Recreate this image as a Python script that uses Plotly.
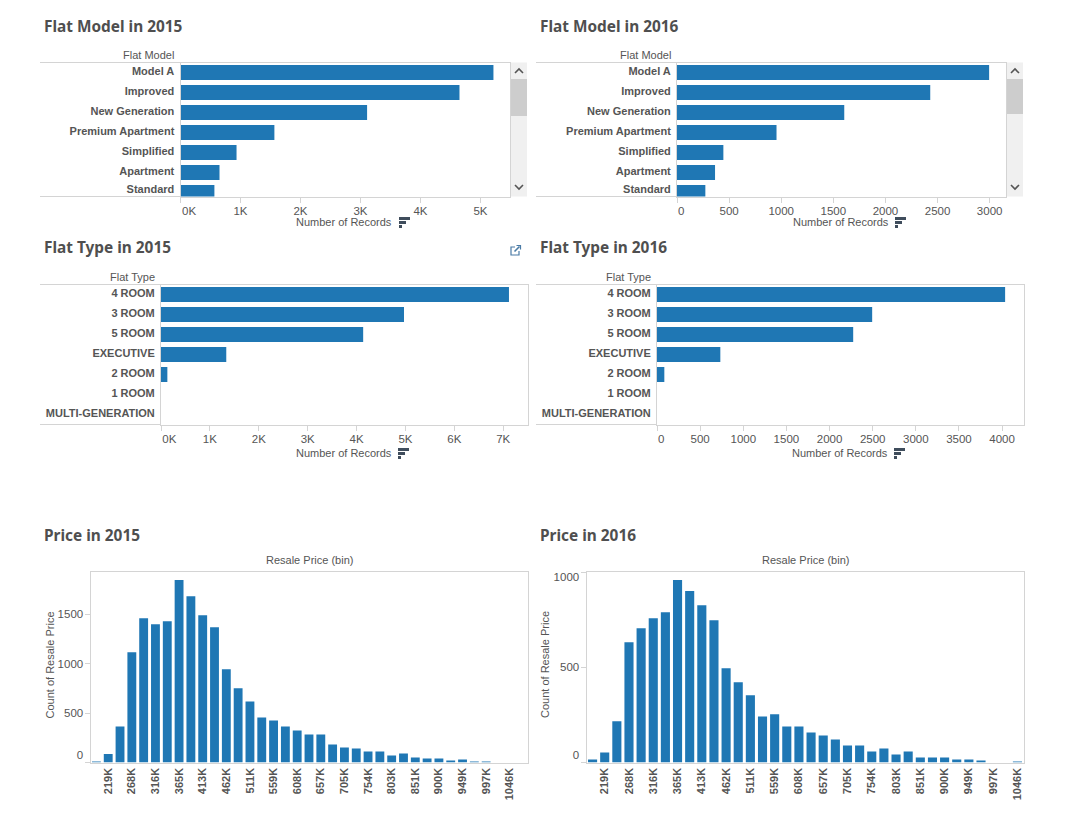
import plotly.graph_objects as go

W, H = 1068, 820
BAR = "#1f77b4"
TXT = "#555555"
LINE = "#d4d4d4"
FONT = "Liberation Sans"

model_cats = ["Model A", "Improved", "New Generation", "Premium Apartment", "Simplified", "Apartment", "Standard"]
model_2015 = [5216, 4650, 3110, 1565, 934, 650, 565]
model_2016 = [2995, 2430, 1605, 955, 445, 365, 272]

type_cats = ["4 ROOM", "3 ROOM", "5 ROOM", "EXECUTIVE", "2 ROOM", "1 ROOM", "MULTI-GENERATION"]
type_2015 = [7117, 4970, 4135, 1335, 130, 0, 0]
type_2016 = [4035, 2494, 2274, 734, 85, 0, 0]

price_2015 = [10, 85, 365, 1115, 1459, 1399, 1429, 1845, 1682, 1490, 1368, 943, 750, 618, 456, 426,
              365, 324, 284, 284, 182, 152, 142, 111, 111, 71, 91, 51, 41, 41, 20, 30, 10, 10, 0, 0, 0]
price_2016 = [16, 53, 216, 632, 705, 758, 789, 958, 900, 826, 747, 495, 421, 353, 242, 253, 189, 189,
              158, 142, 121, 89, 89, 58, 74, 42, 58, 26, 26, 26, 16, 16, 11, 0, 0, 5]
price_labels = ["219K", "268K", "316K", "365K", "413K", "462K", "511K", "559K", "608K", "657K",
                "705K", "754K", "803K", "851K", "900K", "949K", "997K", "1046K"]

k_labels_5 = ["0K", "1K", "2K", "3K", "4K", "5K"]
k_ticks_5 = [0, 1000, 2000, 3000, 4000, 5000]
n_labels_3000 = ["0", "500", "1000", "1500", "2000", "2500", "3000"]
n_ticks_3000 = [0, 500, 1000, 1500, 2000, 2500, 3000]
k_labels_7 = ["0K", "1K", "2K", "3K", "4K", "5K", "6K", "7K"]
k_ticks_7 = [0, 1000, 2000, 3000, 4000, 5000, 6000, 7000]
n_labels_4000 = ["0", "500", "1000", "1500", "2000", "2500", "3000", "3500", "4000"]
n_ticks_4000 = [0, 500, 1000, 1500, 2000, 2500, 3000, 3500, 4000]


def px(x):
    return x / W


def py(y):
    return 1 - y / H


fig = go.Figure()
shapes, notes = [], []


def rect(x0, y0, x1, y1, color):
    shapes.append(dict(type="rect", xref="paper", yref="paper", x0=px(x0), x1=px(x1), y0=py(y0), y1=py(y1),
                       fillcolor=color, line_width=0, layer="above"))


def hline(x0, x1, y):
    shapes.append(dict(type="line", xref="paper", yref="paper", x0=px(x0), x1=px(x1), y0=py(y), y1=py(y),
                       line=dict(color=LINE, width=1), layer="below"))


def path(points, color, width=1.5):
    d = "M" + " L".join(f"{px(a):.5f},{py(b):.5f}" for a, b in points)
    shapes.append(dict(type="path", xref="paper", yref="paper", path=d,
                       line=dict(color=color, width=width), layer="above"))


def note(x, y, text, size=11, color=TXT, anchor="left", angle=0, weight=None, family=FONT):
    notes.append(dict(xref="paper", yref="paper", x=px(x), y=py(y), text=text, showarrow=False,
                      xanchor=anchor, yanchor="middle", textangle=angle,
                      font=dict(size=size, color=color, family=family, weight=weight), borderpad=0, borderwidth=0))


def title(x, y, text):
    note(x, y, text, size=15.4, color="#4f4f4f", weight="bold", family="Noto Sans")


def sort_icon(x, y):
    c = "#3f4d5c"
    rect(x, y, x + 11, y + 3, c)
    rect(x, y + 4, x + 7, y + 7, c)
    rect(x, y + 8, x + 3, y + 11, c)


def scrollbar(x0, top, bottom, t0, t1):
    rect(x0, top, x0 + 16, bottom, "#f0f0f0")
    rect(x0, t0, x0 + 16, t1, "#cdcdcd")
    cx = x0 + 8
    path([(cx - 4, 73), (cx, 69), (cx + 4, 73)], "#555555", 1.6)
    path([(cx - 4, 185), (cx, 189), (cx + 4, 185)], "#555555", 1.6)


axis_n = 0


def axis_font():
    return dict(family=FONT, size=11.5, color=TXT)


def hbar_panel(cats, vals, ticks, labels, first_shift, x0, x1, y0, y1, xmax, left, first_c, last_shift, cat_title,
               title_dy, title_dx):
    global axis_n
    axis_n += 1
    n = "" if axis_n == 1 else str(axis_n)
    fig.add_trace(go.Bar(x=vals, y=cats, orientation="h", marker_color=BAR, marker_line_width=0,
                         xaxis="x" + n, yaxis="y" + n, showlegend=False))
    label_pos = [ticks[0] + first_shift] + ticks[1:]
    ybot = (y1 - first_c) / 20
    ytop = (y0 - first_c) / 20
    ypos = [i + (-1.4 / 20) for i in range(len(cats))]
    ypos[-1] = ypos[-1] + last_shift / 20
    fig.layout["xaxis" + n] = dict(
        domain=[px(x0), px(x1)], range=[0, xmax], anchor="y" + n, showgrid=False, zeroline=False,
        tickmode="array", tickvals=label_pos, ticktext=labels, ticks="", ticklabelstandoff=4,
        tickfont=axis_font(), showline=True, linecolor=LINE, linewidth=1, mirror=True,
        minor=dict(tickmode="array", tickvals=ticks, ticks="outside", ticklen=5, tickcolor=LINE, tickwidth=1,
                   showgrid=False))
    fig.layout["yaxis" + n] = dict(
        domain=[py(y1), py(y0)], range=[ybot, ytop], anchor="x" + n, showgrid=False, zeroline=False,
        type="category", tickmode="array", tickvals=ypos, ticktext=cats, ticks="", ticklabelstandoff=3,
        tickfont=dict(family=FONT, size=11, color=TXT, weight="bold"),
        showline=True, linecolor=LINE, linewidth=1, mirror=True)
    hline(left, x0, y0)
    hline(left, x0, y1)
    note(x0 - 6.5, y0 - 7.5, cat_title, anchor="right")
    note((x0 + x1) / 2 + title_dx, y1 + title_dy, "Number of Records", anchor="center")


def hist_panel(vals, labels, y_ticks, y_labels, y_label_pos, x0, x1, y0, y1, ymax, nslots, ytitle_x):
    global axis_n
    axis_n += 1
    n = str(axis_n)
    fig.add_trace(go.Bar(x=list(range(len(vals))), y=vals, marker_color=BAR, marker_line_width=0,
                         xaxis="x" + n, yaxis="y" + n, showlegend=False))
    fig.layout["xaxis" + n] = dict(
        domain=[px(x0), px(x1)], range=[-0.5, nslots - 0.5], anchor="y" + n, showgrid=False, zeroline=False,
        tickmode="array", tickvals=list(range(1, 36, 2)), ticktext=labels, tickangle=-90, ticks="",
        ticklabelstandoff=0, tickfont=dict(family=FONT, size=11, color=TXT, weight="bold"),
        showline=True, linecolor=LINE, linewidth=1, mirror=True)
    fig.layout["yaxis" + n] = dict(
        domain=[py(y1), py(y0)], range=[0, ymax], anchor="x" + n, showgrid=False, zeroline=False,
        tickmode="array", tickvals=y_label_pos, ticktext=y_labels, ticks="", ticklabelstandoff=4,
        tickfont=axis_font(), showline=True, linecolor=LINE, linewidth=1, mirror=True,
        minor=dict(tickmode="array", tickvals=y_ticks, ticks="outside", ticklen=5, tickcolor=LINE, tickwidth=1,
                   showgrid=False))
    note((x0 + x1) / 2, y0 - 12, "Resale Price (bin)", size=11, anchor="center")
    note(ytitle_x, 665, "Count of Resale Price", size=11, anchor="center", angle=-90)


title(44, 26, "Flat Model in 2015")
title(540, 26, "Flat Model in 2016")
title(44, 247, "Flat Type in 2015")
title(540, 247, "Flat Type in 2016")
title(44, 535, "Price in 2015")
title(540, 535, "Price in 2016")

hbar_panel(model_cats, model_2015, k_ticks_5, k_labels_5, 142, 180.5, 510, 62.5, 196.5, 5492, 40, 72.5, -2,
           "Flat Model", 25.5, -1)
hbar_panel(model_cats, model_2016, n_ticks_3000, n_labels_3000, 41, 677, 1006, 62.5, 196.5, 3157, 536, 72.5, -2,
           "Flat Model", 25.5, -1)
hbar_panel(type_cats, type_2015, k_ticks_7, k_labels_7, 170, 161, 527.5, 284.5, 424.5, 7496, 40, 294.5, 0,
           "Flat Type", 28.5, 0)
hbar_panel(type_cats, type_2016, n_ticks_4000, n_labels_4000, 50, 657, 1023.5, 284.5, 424.5, 4248, 536, 294.5, 0,
           "Flat Type", 28.5, 0)

hist_panel(price_2015, price_labels, [0, 500, 1000, 1500], ["0", "500", "1000", "1500"], [78, 500, 1000, 1500],
           90.5, 527.5, 571.5, 762.5, 1932, 37, 49.5)
hist_panel(price_2016, price_labels, [0, 500, 1000], ["0", "500", "1000"], [40, 500, 974],
           586.5, 1023.5, 571.5, 762.5, 1003, 36, 545)

scrollbar(511, 62.5, 196.5, 79, 116)
scrollbar(1007, 62.5, 196.5, 79, 114)
sort_icon(399, 217)
sort_icon(895, 217)
sort_icon(398, 448)
sort_icon(894, 448)

# expand-view icon beside the Flat Type in 2015 title
icon = "#4a7ba6"
path([(515, 247), (511, 247), (511, 255), (519, 255), (519, 251)], icon, 1.2)
path([(514.5, 251.5), (519.5, 246.5)], icon, 1.6)
path([(516.5, 245.5), (520.5, 245.5), (520.5, 249.5)], icon, 1.2)

fig.update_layout(width=W, height=H, autosize=False, margin=dict(l=0, r=0, t=0, b=0, pad=0),
                  paper_bgcolor="white", plot_bgcolor="white", bargap=0.25, shapes=shapes, annotations=notes,
                  font=dict(family=FONT, color=TXT, size=11), showlegend=False)
fig.write_html("out.html", post_script="document.body.style.margin='0';document.body.style.overflow='hidden';",
               config=dict(displayModeBar=False))
